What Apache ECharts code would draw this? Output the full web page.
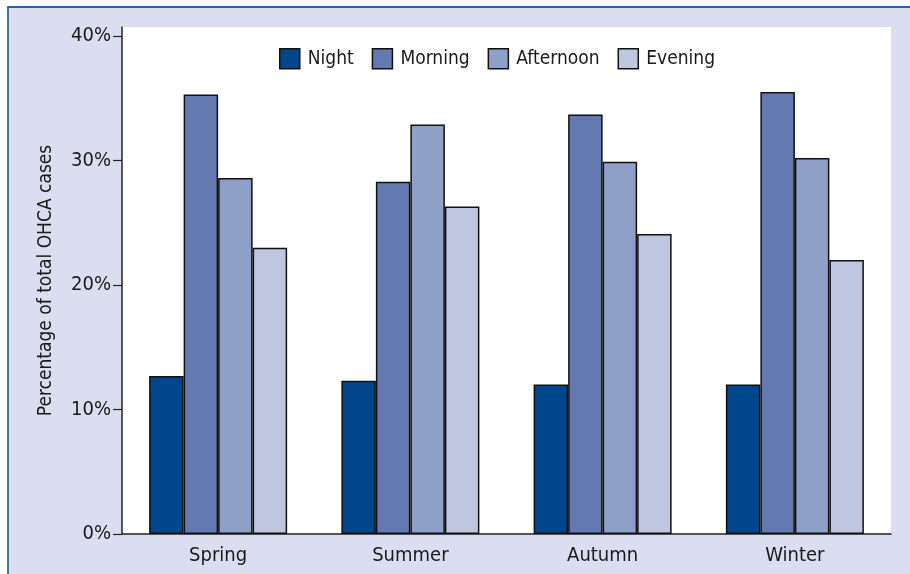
<!DOCTYPE html>
<html>
<head>
<meta charset="utf-8">
<script src="https://cdn.jsdelivr.net/npm/echarts@6/dist/echarts.min.js"></script>
<style>
  html, body { margin: 0; padding: 0; background: #ffffff; }
  #frame { position: absolute; left: 7px; top: 6px; width: 903px; height: 568px; background: #dadef0; border-top: 2px solid #2f5f9e; border-left: 2px solid #4a72aa; box-sizing: border-box; }
  #chart { position: absolute; left: 0; top: 0; width: 910px; height: 574px; }
</style>
</head>
<body>
<div id="frame"></div>
<div id="chart"></div>
<script>
const categories = ['Spring', 'Summer', 'Autumn', 'Winter'];
const seriesNames = ['Night', 'Morning', 'Afternoon', 'Evening'];
const night = [12.7, 12.3, 12.0, 12.0];
const morning = [35.3, 28.3, 33.7, 35.5];
const afternoon = [28.6, 32.9, 29.9, 30.2];
const evening = [23.0, 26.3, 24.1, 22.0];
const yTicks = [0, 10, 20, 30, 40];

const colors = ['#00468c', '#6379b0', '#8e9fc8', '#bfc7e0'];
const fontFam = '"Liberation Sans Narrow", "DejaVu Sans Condensed", "Roboto Condensed", Arial, sans-serif';
const values = [night, morning, afternoon, evening];

const chart = echarts.init(document.getElementById('chart'), null, { renderer: 'canvas' });
chart.setOption({
  backgroundColor: 'transparent',
  animation: false,
  color: colors,
  grid: { left: 122, right: 19, top: 27, bottom: 40, show: true, backgroundColor: '#ffffff', borderWidth: 0 },
  legend: {
    data: seriesNames,
    icon: 'rect',
    left: 274, top: 43,
    itemWidth: 20, itemHeight: 20, itemGap: 18,
    textStyle: { fontFamily: fontFam, fontSize: 19, color: '#1a1a1a', padding: [0, 0, 0, 3] },
    itemStyle: { borderColor: '#111', borderWidth: 1.5 }
  },
  xAxis: {
    type: 'category',
    data: categories,
    axisLine: { lineStyle: { color: '#222', width: 1.5 } },
    axisTick: { show: false },
    axisLabel: { fontFamily: fontFam, fontSize: 20, color: '#1a1a1a', margin: 12 }
  },
  yAxis: {
    type: 'value',
    min: 0,
    max: 40 * 507 / 498,
    name: 'Percentage of total OHCA cases',
    nameLocation: 'middle',
    nameGap: 66,
    nameTextStyle: { fontFamily: fontFam, fontSize: 19, color: '#1a1a1a' },
    splitLine: { show: false },
    axisLine: { show: true, lineStyle: { color: '#222', width: 1.5 } },
    axisTick: { show: true, length: 9, customValues: yTicks, lineStyle: { color: '#222', width: 1.2 } },
    axisLabel: { customValues: yTicks, formatter: v => v + '%', fontFamily: fontFam, fontSize: 20, color: '#1a1a1a', margin: 11 }
  },
  series: seriesNames.map((n, i) => ({
    name: n,
    type: 'bar',
    data: values[i],
    barWidth: 34.5,
    barGap: '0%',
    itemStyle: { color: colors[i], borderColor: '#111', borderWidth: 1.5 }
  }))
});
</script>
</body>
</html>
